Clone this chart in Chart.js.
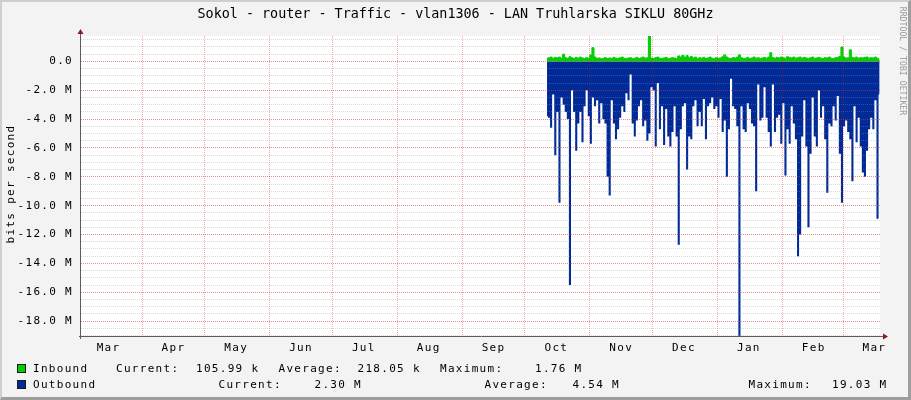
<!DOCTYPE html>
<html>
<head>
<meta charset="utf-8">
<script src="https://cdn.jsdelivr.net/npm/chart.js@4.4.1/dist/chart.umd.min.js"></script>
<style>
html,body{margin:0;padding:0;background:#F3F3F3;}
#wrap{position:relative;width:911px;height:400px;overflow:hidden;background:#F3F3F3;}
#c{position:absolute;left:0;top:0;}
#frame{position:absolute;left:0;top:0;width:911px;height:400px;box-sizing:border-box;border-top:2px solid #CFCFCF;border-left:2px solid #CFCFCF;border-right:3px solid #9E9E9E;border-bottom:3px solid #9E9E9E;pointer-events:none;}
.t{position:absolute;font-family:'DejaVu Sans Mono',monospace;font-size:11px;letter-spacing:1.3px;line-height:14px;color:#000;white-space:pre;}
.sq{position:absolute;width:9px;height:9px;box-sizing:border-box;border:1px solid #1a1a1a;}
#title{position:absolute;left:0;top:6px;width:911px;text-align:center;font-family:'DejaVu Sans Mono',monospace;font-size:13.4px;line-height:16px;color:#000;white-space:pre;}
#ytitle{position:absolute;left:-89.5px;top:177px;width:200px;height:14px;text-align:center;transform:rotate(-90deg);transform-origin:50% 50%;}
#side{position:absolute;left:842.7px;top:55.5px;width:120px;height:10px;line-height:10px;text-align:center;font-family:'DejaVu Sans Mono',monospace;font-size:8.2px;color:#999999;transform:rotate(90deg);transform-origin:50% 50%;white-space:pre;}
</style>
</head>
<body>
<div id="wrap">
<canvas id="c" width="911" height="400"></canvas>
<div id="title">Sokol - router - Traffic - vlan1306 - LAN Truhlarska SIKLU 80GHz</div>
<div id="ytitle" class="t">bits per second</div>
<div id="side">RRDTOOL / TOBI OETIKER</div>
<div class="sq" style="left:17px;top:364px;background:#00CF00;"></div>
<div class="t" style="left:33px;top:361.5px;">Inbound</div>
<div class="t" style="left:116px;top:361.5px;">Current:</div>
<div class="t" style="left:196px;top:361.5px;">105.99 k</div>
<div class="t" style="left:278.5px;top:361.5px;">Average:</div>
<div class="t" style="left:357.5px;top:361.5px;">218.05 k</div>
<div class="t" style="left:440px;top:361.5px;">Maximum:</div>
<div class="t" style="left:535px;top:361.5px;">1.76 M</div>
<div class="sq" style="left:17px;top:379.5px;background:#002A97;"></div>
<div class="t" style="left:33px;top:377.5px;">Outbound</div>
<div class="t" style="left:218.5px;top:377.5px;">Current:</div>
<div class="t" style="left:314.5px;top:377.5px;">2.30 M</div>
<div class="t" style="left:484.5px;top:377.5px;">Average:</div>
<div class="t" style="left:572.5px;top:377.5px;">4.54 M</div>
<div class="t" style="left:748.5px;top:377.5px;">Maximum:</div>
<div class="t" style="left:832px;top:377.5px;">19.03 M</div>
<div id="frame"></div>
</div>
<script>
// ---- data (Mbit/s) ----
const monthNames = ['Mar','Apr','May','Jun','Jul','Aug','Sep','Oct','Nov','Dec','Jan','Feb','Mar'];
const monthStarts = ['2023-03-01','2023-04-01','2023-05-01','2023-06-01','2023-07-01','2023-08-01','2023-09-01','2023-10-01','2023-11-01','2023-12-01','2024-01-01','2024-02-01','2024-03-01'];
const axisStart = '2023-03-02T20:00:00Z';
const axisEnd = '2024-03-18T16:20:00Z';
const dataStart = '2023-10-11T12:00:00Z';
const yTickValues = [0,-2,-4,-6,-8,-10,-12,-14,-16,-18];
const minorStep = 0.5;

const inbound = [
0.22,0.25,0.30,0.20,0.28,0.24,0.30,0.22,0.50,0.26,
0.20,0.32,0.25,0.20,0.28,0.22,0.30,0.24,0.20,0.26,
0.22,0.45,0.95,0.30,0.20,0.24,0.18,0.22,0.26,0.20,
0.24,0.20,0.28,0.22,0.20,0.25,0.30,0.22,0.20,0.24,
0.26,0.20,0.22,0.28,0.20,0.24,0.30,0.22,0.26,1.76,
0.24,0.20,0.26,0.30,0.22,0.20,0.24,0.28,0.20,0.22,
0.26,0.24,0.20,0.38,0.30,0.42,0.28,0.40,0.26,0.35,
0.24,0.30,0.20,0.26,0.22,0.28,0.20,0.24,0.30,0.22,
0.20,0.26,0.22,0.24,0.32,0.45,0.30,0.22,0.20,0.26,
0.24,0.30,0.45,0.26,0.20,0.22,0.28,0.20,0.24,0.30,
0.22,0.26,0.20,0.24,0.28,0.22,0.30,0.60,0.26,0.22,
0.28,0.24,0.30,0.26,0.22,0.32,0.28,0.24,0.30,0.22,
0.26,0.30,0.22,0.28,0.24,0.20,0.26,0.30,0.22,0.24,
0.28,0.22,0.20,0.26,0.24,0.30,0.22,0.20,0.26,0.28,
0.35,1.00,0.30,0.22,0.26,0.80,0.28,0.24,0.30,0.22,
0.26,0.24,0.28,0.30,0.22,0.26,0.24,0.30,0.22,0.11
];
const outbound = [
3.8,3.9,4.6,2.3,6.5,3.5,9.8,2.5,3.0,3.5,
4.0,15.5,2.0,3.5,6.2,4.3,3.5,5.6,3.1,2.0,
3.8,5.7,2.5,3.1,2.7,4.3,2.9,4.0,4.3,8.0,
9.3,2.7,4.3,5.4,4.7,3.9,3.1,3.5,2.2,2.7,
0.9,4.3,5.2,4.1,3.1,2.7,4.5,4.1,5.5,5.0,
1.8,2.0,5.9,1.5,4.7,3.1,5.8,3.3,5.2,5.9,
4.9,3.1,5.2,12.7,4.7,3.1,2.9,7.5,5.2,5.4,
3.1,2.7,4.5,3.5,4.5,2.6,5.4,3.1,2.9,2.5,
3.3,3.1,3.9,2.6,4.9,4.1,8.0,4.7,1.2,3.1,
3.3,4.5,19.03,3.1,4.7,4.9,2.9,3.3,4.3,4.5,
9.0,1.6,4.1,3.9,1.8,3.9,4.9,5.9,1.6,4.9,
3.9,3.7,5.7,2.9,7.9,4.7,5.7,3.1,4.3,5.4,
13.5,12.0,5.2,2.7,5.9,11.5,6.4,2.5,5.2,5.9,
2.0,3.9,3.1,5.4,9.1,4.3,4.5,3.1,4.1,2.4,
6.4,9.8,4.5,4.1,4.9,5.4,8.3,3.1,5.6,3.9,
5.9,7.7,8.0,6.2,4.7,3.9,4.7,2.7,10.9,2.3
];

// ---- helpers ----
const DAY = 86400000;
const t0 = Date.parse(axisStart);
const toDay = s => (Date.parse(s.length === 10 ? s + 'T00:00:00Z' : s) - t0) / DAY;
const xMax = toDay(axisEnd);
const d0 = toDay(dataStart);
const gridDays = monthStarts.map(toDay).filter(d => d > 0 && d <= xMax);
const labelDays = monthStarts.map(s => toDay(s) + 15);
const yMax = Math.max(...inbound);
const yMin = -Math.max(...outbound);
const minorTicks = [];
for (let v = Math.ceil(yMin / minorStep) * minorStep; v <= yMax + 1e-9; v += minorStep) minorTicks.push(+v.toFixed(2));

const font = {family: "'DejaVu Sans Mono', monospace", size: 11};
const dotted = [1, 1];

const rrdPlugin = {
  id: 'rrd',
  beforeDraw(chart) {
    const {ctx, chartArea: a} = chart;
    ctx.save();
    ctx.fillStyle = '#FFFFFF';
    ctx.fillRect(a.left, a.top, a.right - a.left, a.bottom - a.top);
    ctx.restore();
    ctx.letterSpacing = '1.3px';
  },
  afterDraw(chart) {
    const {ctx, chartArea: a} = chart;
    ctx.save();
    ctx.letterSpacing = '0px';
    ctx.setLineDash([]);
    ctx.strokeStyle = '#5C5C5C';
    ctx.lineWidth = 1;
    ctx.beginPath();
    ctx.moveTo(a.left - 2, a.bottom + 0.5);
    ctx.lineTo(a.right + 4, a.bottom + 0.5);
    ctx.moveTo(a.left - 0.5, a.bottom + 3);
    ctx.lineTo(a.left - 0.5, a.top - 3);
    ctx.stroke();
    ctx.fillStyle = '#8E1B1B';
    ctx.beginPath();
    ctx.moveTo(a.left - 3.5, a.top - 2);
    ctx.lineTo(a.left + 2.5, a.top - 2);
    ctx.lineTo(a.left - 0.5, a.top - 7);
    ctx.closePath();
    ctx.fill();
    ctx.beginPath();
    ctx.moveTo(a.right + 3, a.bottom - 2.5);
    ctx.lineTo(a.right + 3, a.bottom + 3.5);
    ctx.lineTo(a.right + 8, a.bottom + 0.5);
    ctx.closePath();
    ctx.fill();
    ctx.restore();
  }
};

new Chart(document.getElementById('c'), {
  type: 'line',
  data: {
    datasets: [
      {
        label: 'Inbound',
        data: inbound.map((v, i) => ({x: d0 + i, y: v})),
        fill: 'origin',
        backgroundColor: '#00CF00',
        borderColor: '#00CF00',
        borderWidth: 1,
        pointRadius: 0,
        stepped: 'middle'
      },
      {
        label: 'Outbound',
        data: outbound.map((v, i) => ({x: d0 + i, y: -v})),
        fill: 'origin',
        backgroundColor: '#002A97',
        borderColor: 'rgba(0,0,0,0)',
        borderWidth: 0,
        pointRadius: 0,
        stepped: 'middle'
      }
    ]
  },
  options: {
    responsive: false,
    animation: false,
    events: [],
    layout: {padding: {left: 0, top: 36, right: 31, bottom: 36}},
    plugins: {legend: {display: false}, title: {display: false}, tooltip: {enabled: false}},
    scales: {
      x: {
        type: 'linear', position: 'bottom', min: 0, max: xMax, bounds: 'data',
        afterBuildTicks: s => { s.ticks = gridDays.map(v => ({value: v})); },
        afterFit: s => { s.height = 0; },
        ticks: {display: false},
        grid: {color: 'rgba(255,0,0,0.35)', lineWidth: 1, drawTicks: false, z: 2, borderDash: dotted},
        border: {display: false, dash: dotted}
      },
      xl: {
        type: 'linear', position: 'bottom', min: 0, max: xMax, bounds: 'data',
        afterBuildTicks: s => { s.ticks = labelDays.map(v => ({value: v})); },
        afterFit: s => { s.height = 28; },
        ticks: {
          autoSkip: false, maxRotation: 0, padding: 6, color: '#000', font: font,
          callback: (v, i) => monthNames[i]
        },
        grid: {display: false, drawTicks: false},
        border: {display: false}
      },
      y: {
        type: 'linear', position: 'left', min: yMin, max: yMax, bounds: 'data',
        afterBuildTicks: s => { s.ticks = yTickValues.map(v => ({value: v})); },
        afterFit: s => { s.width = 81; },
        ticks: {
          autoSkip: false, padding: 8, color: '#000', font: font,
          callback: v => v === 0 ? '0.0' : v.toFixed(1) + ' M'
        },
        grid: {color: 'rgba(255,0,0,0.35)', lineWidth: 1, drawTicks: false, z: 2, borderDash: dotted},
        border: {display: false, dash: dotted}
      },
      y2: {
        type: 'linear', position: 'left', min: yMin, max: yMax, bounds: 'data',
        afterBuildTicks: s => { s.ticks = minorTicks.map(v => ({value: v})); },
        afterFit: s => { s.width = 0; },
        ticks: {display: false},
        grid: {color: 'rgba(150,150,150,0.35)', lineWidth: 1, drawTicks: false, z: 1, borderDash: dotted},
        border: {display: false, dash: dotted}
      }
    }
  },
  plugins: [rrdPlugin]
});
</script>
</body>
</html>
